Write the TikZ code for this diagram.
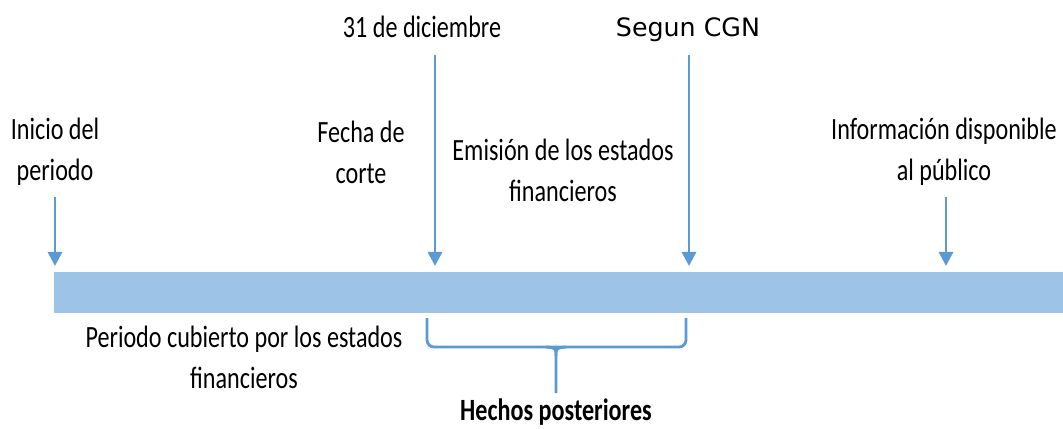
\documentclass[tikz,border=0pt]{standalone}
\usepackage{fontspec}
\setmainfont{Carlito}[FakeStretch=0.78]
\newfontfamily\cgnfont{DejaVu Sans}
\usetikzlibrary{arrows.meta}
\definecolor{azulbarra}{HTML}{9DC3E6}
\definecolor{azulflecha}{HTML}{5B9BD5}

\begin{document}
\begin{tikzpicture}[
x=0.025cm,
y=-0.025cm,
etiqueta/.style={
  align=center,
  inner sep=0pt,
  font=\fontsize{22}{29}\selectfont
  },
flecha/.style={
  ->,
  draw=azulflecha,
  line width=2.1pt
  },
llave/.style={
  draw=azulflecha,
  line width=2pt
  },
>={Triangle[length=10pt,width=10pt]}
]
\useasboundingbox (0,0) rectangle (1063,428);

% barra del tiempo
\coordinate (barra-a) at (54,272);
\coordinate (barra-b) at (1063,313);
\fill[azulbarra] (barra-a) rectangle (barra-b);

% textos
\node[etiqueta] (inicio) at (55,152) {Inicio del\\periodo};
\node[etiqueta] (fecha) at (361,152) {Fecha de\\corte};
\node[etiqueta] (dic) at (422,27) {31 de diciembre};
\node[etiqueta] (emision) at (563,170) {Emisión de los estados\\financieros};
\node[font=\cgnfont\fontsize{18}{21}\selectfont, inner sep=0pt] (cgn) at (688,30) {Segun CGN};
\node[etiqueta] (info) at (944,152) {Información disponible\\al público};
\node[etiqueta] (cubierto) at (244,357) {Periodo cubierto por los estados\\financieros};
\node[etiqueta, font=\fontsize{22}{29}\selectfont\bfseries] (hechos) at (556,412) {Hechos posteriores};

% flechas
\foreach \n/\x/\ya in {ini/55/197, dic/435/55, cgn/689/55, pub/946/197}
{
  \coordinate (\n-top) at (\x,\ya);
  \coordinate (\n-tip) at (\x,266);
  \draw[flecha] (\n-top) -- (\n-tip);
}

% llave
\coordinate (ll-a) at (427,318);
\coordinate (ll-b) at (686,318);
\coordinate (ll-c) at (556,393);
\draw[llave, rounded corners=5pt] (ll-a) -- (427,347) -- (686,347) -- (ll-b);
\draw[llave] (ll-c) -- (556,356) .. controls (556,348) .. (546,347);
\draw[llave] (556,356) .. controls (556,348) .. (566,347);

\end{tikzpicture}
\end{document}
